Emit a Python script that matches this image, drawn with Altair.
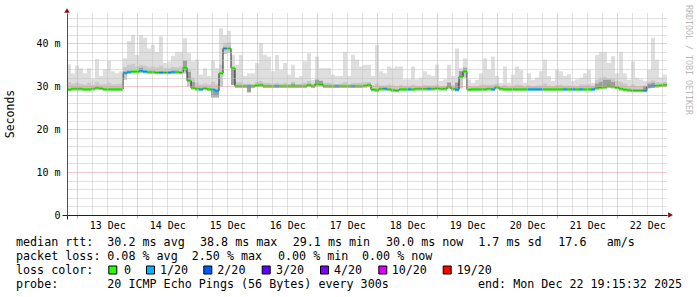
import altair as alt
import pandas as pd

# ---------------- data ----------------
# time axis: days since 12 Dec 2025 00:00, 150 consolidated columns over 10 days
T_START = 0.828
T_END = 10.828
N_COLS = 150

median_ms = [
    29.2, 29.4, 29.4, 29.4, 29.3, 29.3, 29.4, 29.6, 29.5, 29.3,
    29.3, 29.3, 29.3, 29.3, 33.1, 33.3, 33.4, 33.4, 33.6, 33.4,
    33.3, 33.3, 33.2, 33.2, 33.2, 33.2, 33.3, 33.3, 33.2, 34.3,
    31.3, 29.6, 29.4, 29.3, 29.5, 29.3, 29.2, 28.9, 33.0, 38.8,
    38.8, 34.2, 30.0, 30.0, 30.0, 30.0, 30.0, 30.2, 30.3, 30.0,
    30.0, 30.0, 30.0, 30.0, 30.0, 30.0, 30.0, 30.0, 30.0, 30.0,
    30.3, 30.0, 30.5, 30.4, 30.0, 30.0, 30.0, 30.0, 30.0, 30.0,
    30.0, 30.0, 30.0, 30.0, 30.1, 30.3, 29.2, 29.1, 29.4, 29.4,
    29.3, 29.1, 29.0, 29.3, 29.3, 29.3, 29.3, 29.4, 29.4, 29.4,
    29.4, 29.4, 29.5, 29.4, 29.4, 29.9, 29.4, 29.2, 32.2, 33.4,
    29.2, 29.3, 29.3, 29.3, 29.3, 29.4, 29.3, 29.8, 29.4, 29.3,
    29.3, 29.3, 29.3, 29.3, 29.3, 29.3, 29.3, 29.3, 29.3, 29.3,
    29.3, 29.3, 29.3, 29.3, 29.3, 29.3, 29.3, 29.3, 29.3, 29.3,
    29.3, 29.3, 29.6, 29.7, 29.8, 30.0, 29.9, 29.7, 29.4, 29.2,
    29.1, 29.0, 29.0, 29.0, 29.0, 29.9, 30.0, 30.1, 30.2, 30.3,
]

smoke_max_ms = [
    35.1, 33.0, 34.8, 34.2, 33.0, 34.2, 31.6, 36.3, 32.4, 34.0,
    35.9, 33.5, 33.0, 33.5, 36.5, 40.5, 42.0, 37.3, 41.9, 41.3,
    38.8, 39.6, 38.0, 41.6, 35.4, 35.8, 37.1, 38.0, 38.0, 41.2,
    37.7, 35.8, 36.2, 32.7, 34.2, 32.4, 36.0, 34.2, 43.5, 42.0,
    42.9, 37.3, 35.0, 37.3, 32.4, 33.0, 33.0, 35.4, 40.0, 37.3,
    36.9, 33.5, 37.3, 33.8, 35.4, 32.7, 35.0, 32.0, 32.4, 35.8,
    37.7, 31.5, 36.9, 34.2, 34.2, 34.2, 32.7, 32.4, 32.4, 38.0,
    32.4, 37.3, 36.2, 34.6, 35.0, 35.0, 32.4, 39.6, 33.5, 33.0,
    34.6, 34.2, 34.6, 34.6, 31.6, 31.6, 34.6, 31.6, 32.0, 33.5,
    32.7, 32.4, 35.0, 31.2, 31.6, 35.0, 32.4, 38.8, 34.2, 36.5,
    31.6, 30.8, 31.5, 33.0, 36.5, 33.8, 36.9, 32.4, 30.8, 34.6,
    30.8, 32.7, 34.6, 33.8, 30.8, 33.0, 31.5, 32.0, 33.5, 36.2,
    32.4, 31.2, 33.8, 33.5, 32.4, 32.8, 31.2, 31.6, 32.0, 33.0,
    33.8, 30.8, 37.3, 38.0, 38.0, 35.4, 37.0, 33.0, 38.0, 33.0,
    31.5, 35.8, 32.0, 31.6, 31.2, 33.8, 41.3, 36.2, 32.0, 32.7,
]

smoke_mid_ms = [
    31.0, 30.6, 30.8, 30.5, 30.4, 30.8, 30.3, 31.0, 30.4, 30.5,
    30.8, 30.4, 30.5, 30.6, 34.5, 35.0, 35.2, 34.6, 35.0, 34.8,
    34.4, 34.6, 34.4, 34.8, 34.2, 34.2, 34.5, 34.4, 34.6, 36.0,
    34.0, 32.0, 30.8, 30.4, 30.6, 30.4, 31.0, 30.5, 35.0, 40.0,
    40.2, 34.5, 31.0, 31.0, 30.6, 30.6, 30.5, 31.0, 31.2, 30.8,
    30.8, 30.6, 30.8, 30.6, 30.8, 30.5, 31.0, 30.5, 30.6, 30.8,
    31.2, 30.6, 31.6, 31.4, 30.8, 30.8, 30.6, 30.5, 30.6, 31.0,
    30.5, 30.8, 30.8, 30.8, 31.0, 31.0, 30.2, 30.6, 30.2, 30.2,
    30.4, 30.2, 30.0, 30.3, 30.0, 30.0, 30.3, 30.1, 30.1, 30.3,
    30.2, 30.2, 30.4, 30.0, 30.1, 31.0, 30.2, 31.0, 33.5, 34.4,
    30.0, 29.9, 30.0, 30.3, 30.4, 30.3, 30.4, 30.6, 30.0, 30.3,
    29.9, 30.1, 30.4, 30.3, 29.9, 30.2, 30.0, 30.1, 30.2, 30.6,
    30.1, 30.0, 30.3, 30.3, 30.1, 30.2, 30.0, 30.0, 30.4, 30.4,
    30.4, 30.1, 31.5, 32.0, 32.2, 31.8, 31.8, 31.2, 31.0, 30.6,
    30.0, 30.4, 30.0, 30.0, 30.2, 31.0, 31.4, 31.0, 30.8, 31.0,
]

smoke_lo_ms = [
    28.9, 29.0, 29.0, 29.0, 28.9, 28.9, 29.0, 29.2, 29.1, 28.9,
    28.9, 28.9, 28.9, 28.9, 31.5, 32.9, 33.0, 33.0, 33.1, 33.0,
    32.9, 32.9, 32.8, 32.8, 32.8, 32.8, 32.9, 32.9, 32.8, 33.0,
    30.0, 29.3, 29.0, 28.9, 29.1, 28.9, 27.3, 27.3, 30.0, 37.5,
    37.8, 30.5, 29.6, 29.6, 29.6, 28.6, 29.6, 29.8, 29.9, 29.6,
    29.6, 29.6, 29.6, 29.6, 29.6, 29.6, 29.6, 29.6, 29.6, 29.6,
    29.9, 29.6, 30.0, 30.0, 29.6, 29.6, 29.6, 29.6, 29.6, 29.6,
    29.6, 29.6, 29.6, 29.6, 29.7, 29.8, 28.8, 28.7, 29.0, 29.0,
    28.9, 28.7, 28.6, 28.9, 28.9, 28.9, 28.9, 29.0, 29.0, 29.0,
    29.0, 29.0, 29.1, 29.0, 29.0, 29.4, 29.0, 28.8, 29.5, 32.0,
    28.8, 28.9, 28.9, 28.9, 28.9, 29.0, 28.9, 29.3, 29.0, 28.9,
    28.9, 28.9, 28.9, 28.9, 28.9, 28.9, 28.9, 28.9, 28.9, 28.9,
    28.9, 28.9, 28.9, 28.9, 28.9, 28.9, 28.9, 28.9, 28.9, 28.9,
    28.9, 28.9, 29.2, 29.3, 29.4, 29.6, 29.5, 29.3, 29.0, 28.8,
    28.7, 28.6, 28.6, 28.6, 28.6, 29.5, 29.6, 29.7, 29.8, 29.9,
]

# columns whose median was drawn with 1/20 packet loss
loss_1of20_cols = [14, 15, 18, 19, 23, 25, 26, 33, 36, 37, 39, 45, 52, 67, 71,
                   79, 85, 90, 97, 106, 115, 116, 117, 118, 124, 126, 128, 131,
                   144, 145, 146]

# dense (dark) smoke near the median
dark_cols = [18, 29, 30, 31, 36, 37, 41, 45, 56, 62, 63, 95, 97, 98, 99,
             132, 133, 134, 135, 136, 144, 145, 146]
dark_lo_ms = [33.4, 33.5, 31.0, 29.8, 27.6, 27.6, 30.3, 28.6, 30.0, 30.4, 30.3,
              29.9, 29.2, 32.2, 33.4, 29.6, 29.7, 29.8, 30.0, 29.9, 29.0, 29.9, 30.0]
dark_hi_ms = [34.3, 36.0, 33.3, 31.0, 29.2, 29.0, 34.0, 29.8, 30.6, 31.5, 31.2,
              30.8, 30.8, 33.5, 34.2, 30.6, 31.0, 31.5, 31.5, 31.0, 30.0, 30.6, 30.8]

loss_names = ["0", "1/20", "2/20", "3/20", "4/20", "10/20", "19/20"]
loss_colors = ["#26ff00", "#00b8ff", "#0059ff", "#5e00ff", "#7e00ff", "#dd00ff", "#ff0000"]

y_label_values = [0, 10, 20, 30, 40]
day_ticks = [1, 2, 3, 4, 5, 6, 7, 8, 9, 10]          # midnights 13..22 Dec
day_label_pos = [d + 0.5 for d in day_ticks]          # labels sit at noon

legend_line1 = [("median rtt:", 16), ("30.2 ms avg", 107.3), ("38.8 ms max", 200),
                ("29.1 ms min", 292.7), ("30.0 ms now", 386), ("1.7 ms sd", 478.3),
                ("17.6", 558.3), ("am/s", 606.7)]
legend_line2 = [("packet loss:", 16), ("0.08 % avg", 107.3), ("2.50 % max", 191.7),
                ("0.00 % min", 278), ("0.00 % now", 362)]
legend_line3 = [("loss color:", 16)]
legend_line4 = [("probe:", 16), ("20 ICMP Echo Pings (56 Bytes) every 300s", 107.3),
                ("end: Mon Dec 22 19:15:32 2025", 478)]
swatch_left = [108.3, 146, 203.3, 261.7, 320, 378.3, 442.7]
swatch_text_x = [124, 160, 217.3, 276, 334, 391.7, 456.7]

# ---------------- frames ----------------
colw = (T_END - T_START) / N_COLS
loss_set = set(loss_1of20_cols)
df = pd.DataFrame({
    "t0": [T_START + k * colw for k in range(N_COLS)],
    "t1": [T_START + (k + 1) * colw for k in range(N_COLS)],
    "tc": [T_START + (k + 0.5) * colw for k in range(N_COLS)],
    "med": median_ms, "mx": smoke_max_ms, "mid": smoke_mid_ms, "lo": smoke_lo_ms,
    "loss": ["1/20" if k in loss_set else "0" for k in range(N_COLS)],
})
line_df = pd.DataFrame({"t": list(df["t0"]) + [T_END], "med": median_ms + [median_ms[-1]]})
dark_df = pd.DataFrame({
    "t0": [T_START + k * colw for k in dark_cols],
    "t1": [T_START + (k + 1) * colw for k in dark_cols],
    "lo": dark_lo_ms, "hi": dark_hi_ms,
})

Y_MAX = 47.06
PL, PT = 67, 13
W, H = 600, 202
xs = alt.Scale(domain=[T_START, T_END], nice=False, zero=False)
ys = alt.Scale(domain=[0, Y_MAX], nice=False, zero=False)
MONO = "DejaVu Sans Mono"
MINOR = "#c2c2c2"
MAJOR = "#e29595"

minor_x = [d + q for d in range(0, 11) for q in (0.25, 0.5, 0.75) if T_START <= d + q <= T_END]
minor_y = [v for v in range(2, 47, 2) if v % 10 != 0]

def grid_axis(values, color, orient):
    return alt.Axis(values=values, grid=True, gridColor=color, gridDash=[1, 1], gridWidth=1,
                    labels=False, ticks=False, domain=False, title=None, orient=orient, zindex=1)

light = alt.Chart(df).mark_rect(color="#dedede").encode(
    x=alt.X("t0:Q", scale=xs, axis=grid_axis(minor_x, MINOR, "bottom")),
    x2="t1:Q",
    y=alt.Y("lo:Q", scale=ys, axis=grid_axis(minor_y, MINOR, "left")),
    y2="mx:Q",
)
mid = alt.Chart(df).mark_rect(color="#c9c9c9").encode(
    x=alt.X("t0:Q", scale=xs, axis=alt.Axis(values=day_ticks, grid=True, gridColor=MAJOR,
                                            gridDash=[1, 1], labels=False, ticks=True, tickSize=3,
                                            tickColor=MAJOR, domain=False, title=None,
                                            orient="bottom", zindex=1)),
    x2="t1:Q",
    y=alt.Y("lo:Q", scale=ys, axis=grid_axis([10, 20, 30, 40], MAJOR, "left")),
    y2="mid:Q",
)
dark = alt.Chart(dark_df).mark_rect(color="#9e9e9e").encode(
    x=alt.X("t0:Q", scale=xs, axis=alt.Axis(values=day_label_pos,
                                            labelExpr="floor(datum.value) + 12 + ' Dec'",
                                            grid=False, ticks=False, domain=False, title=None,
                                            labelFont=MONO, labelFontSize=10, labelColor="black",
                                            labelPadding=5, labelFlush=False, labelOverlap=False,
                                            orient="bottom")),
    x2="t1:Q",
    y=alt.Y("lo:Q", scale=ys, axis=alt.Axis(values=y_label_values,
                                            labelExpr="datum.value == 0 ? '0\u00a0\u00a0' : datum.value + ' m'",
                                            grid=False, ticks=False, domain=False, title=None,
                                            labelFont=MONO, labelFontSize=10, labelColor="black",
                                            labelPadding=7, labelFlush=False, labelOverlap=False,
                                            orient="left")),
    y2="hi:Q",
)
blackline = alt.Chart(line_df).mark_line(interpolate="step-after", color="#202020", strokeWidth=1).encode(
    x=alt.X("t:Q", scale=xs, axis=alt.Axis(values=[T_START], grid=False, ticks=True, tickSize=4,
                                           tickColor="#202020", labels=False, domain=True,
                                           domainColor="#202020", title=None, orient="bottom", zindex=2)),
    y=alt.Y("med:Q", scale=ys, axis=alt.Axis(values=[0], grid=False, ticks=True, tickSize=5,
                                             tickColor="#202020", labels=False, domain=True,
                                             domainColor="#505050", title=None, orient="left", zindex=2)),
)
median_band = alt.Chart(df).mark_tick(orient="horizontal", thickness=3, size=4).encode(
    x=alt.X("tc:Q", scale=xs, axis=None),
    y=alt.Y("med:Q", scale=ys, axis=None),
    color=alt.Color("loss:N", scale=alt.Scale(domain=loss_names, range=loss_colors), legend=None),
)

one = pd.DataFrame({"a": [0]})

def text_layer(txt, px, py, size=11.7, align="left", baseline="alphabetic", angle=0, color="black"):
    return alt.Chart(one).mark_text(font=MONO, fontSize=size, align=align, baseline=baseline,
                                    angle=angle, color=color).encode(
        x=alt.value(px - PL), y=alt.value(py - PT), text=alt.value(txt.replace(" ", "\u00a0")))

texts = []
for line, base in ((legend_line1, 245.8), (legend_line2, 259.8), (legend_line3, 273.8), (legend_line4, 287.8)):
    for txt, px in line:
        texts.append(text_layer(txt, px, base))
for name, tx in zip(loss_names, swatch_text_x):
    texts.append(text_layer(name, tx, 273.8))
texts.append(text_layer("Seconds", 10.8, 114, size=11.5, align="center", baseline="middle", angle=270))
texts.append(text_layer("RRDTOOL / TOBI OETIKER", 687.5, 60, size=8.3, align="center",
                        baseline="middle", angle=90, color="#b8b8b8"))

swatches = []
for col, left in zip(loss_colors, swatch_left):
    swatches.append(alt.Chart(one).mark_rect(stroke="black", strokeWidth=1).encode(
        x=alt.value(left - PL + 0.5), x2=alt.value(left - PL + 8.5),
        y=alt.value(266 - PT), y2=alt.value(274 - PT), color=alt.value(col)))

arrows = [
    alt.Chart(one).mark_point(shape="triangle-right", filled=True, size=30, color="#801010", opacity=1).encode(
        x=alt.value(W + 3.5), y=alt.value(H)),
    alt.Chart(one).mark_point(shape="triangle-up", filled=True, size=30, color="#801010", opacity=1).encode(
        x=alt.value(0), y=alt.value(-2.5)),
]

chart = alt.layer(light, mid, dark, blackline, median_band, *swatches, *arrows, *texts).resolve_axis(
    x="independent", y="independent"
).properties(
    width=W, height=H,
    autosize=alt.AutoSizeParams(type="none"),
    padding={"left": PL, "top": PT, "right": 697 - PL - W, "bottom": 297 - PT - H},
    background="white",
).configure_view(stroke=None)

chart.save("out.html", embed_options={"renderer": "svg", "actions": False})
